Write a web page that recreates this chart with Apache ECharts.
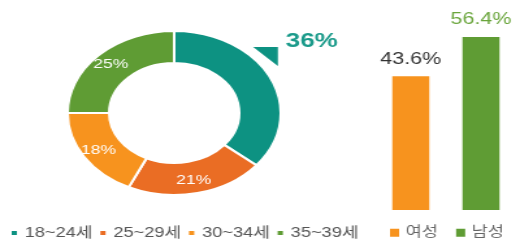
<!DOCTYPE html>
<html>
<head>
<meta charset="utf-8">
<script src="https://cdn.jsdelivr.net/npm/echarts@6/dist/echarts.min.js"></script>
<style>
  html, body { margin: 0; padding: 0; background: #fff; overflow: hidden; }
  /* the source picture is stretched sideways, so draw narrow and widen */
  #chart { width: 398px; height: 240px; transform: scaleX(1.3); transform-origin: 0 0; }
</style>
</head>
<body>
<div id="chart"></div>
<script>
  // 연령대 비율
  const ageNames = ['18~24세', '25~29세', '30~34세', '35~39세'];
  const ageShares = [36, 21, 18, 25];
  // 성별 비율
  const genderNames = ['여성', '남성'];
  const genderShares = [43.6, 56.4];

  const ageColors = ['#0d9282', '#ea6d24', '#f7931e', '#5f9c34'];
  const genderColors = ['#f7931e', '#5f9c34'];
  const font = '"Liberation Sans", Arial, "Noto Sans CJK KR", sans-serif';

  const chart = echarts.init(document.getElementById('chart'));

  const pieData = ageNames.map((name, i) => {
    const item = { name: name, value: ageShares[i], itemStyle: { color: ageColors[i] } };
    if (i === 0) {
      item.label = {
        position: 'outside',
        formatter: '{arr|◥}{val|{c}%}',
        rich: {
          arr: { fontSize: 19, color: ageColors[0], padding: [34, 6, 0, 0] },
          val: { fontSize: 20, fontWeight: 'bold', color: '#1a9a8a' }
        }
      };
      item.labelLine = { show: false };
    }
    return item;
  });

  const option = {
    animation: false,
    textStyle: { fontFamily: font },
    legend: [
      {
        data: ageNames,
        left: 7,
        top: 226,
        width: 290,
        padding: 0,
        icon: 'rect',
        itemWidth: 6,
        itemHeight: 6,
        itemGap: 4,
        textStyle: { fontSize: 14, color: '#555', fontFamily: font }
      },
      {
        data: genderNames,
        left: 300,
        top: 226,
        width: 98,
        padding: 0,
        icon: 'rect',
        itemWidth: 7,
        itemHeight: 8,
        itemGap: 14,
        textStyle: { fontSize: 13.5, color: '#666', fontFamily: font }
      }
    ],
    grid: { left: 289, width: 108, top: 26, bottom: 30 },
    xAxis: { type: 'category', data: genderNames, show: false },
    yAxis: { type: 'value', min: 0, max: 60, show: false },
    series: [
      {
        type: 'pie',
        center: [134, 113],
        radius: [50, 82],
        startAngle: 90,
        clockwise: true,
        itemStyle: { borderColor: '#fff', borderWidth: 2 },
        label: {
          position: 'inside',
          formatter: '{c}%',
          color: '#fff',
          fontSize: 13.5,
          fontFamily: font
        },
        labelLayout: function (params) {
          if (params.dataIndex === 0) return { dx: -62, dy: -30 };
        },
        emphasis: { disabled: true },
        data: pieData
      },
      {
        type: 'bar',
        name: genderNames[0],
        data: [genderShares[0], '-'],
        barWidth: 28.5,
        barGap: '-100%',
        itemStyle: { color: genderColors[0] },
        label: { show: true, position: 'top', distance: 9, formatter: '{c}%', fontSize: 16.5, color: '#333' }
      },
      {
        type: 'bar',
        name: genderNames[1],
        data: ['-', genderShares[1]],
        barWidth: 28.5,
        barGap: '-100%',
        itemStyle: { color: genderColors[1] },
        label: { show: true, position: 'top', distance: 9, formatter: '{c}%', fontSize: 16.5, color: '#6aa53c' }
      }
    ]
  };

  chart.setOption(option);
</script>
</body>
</html>
